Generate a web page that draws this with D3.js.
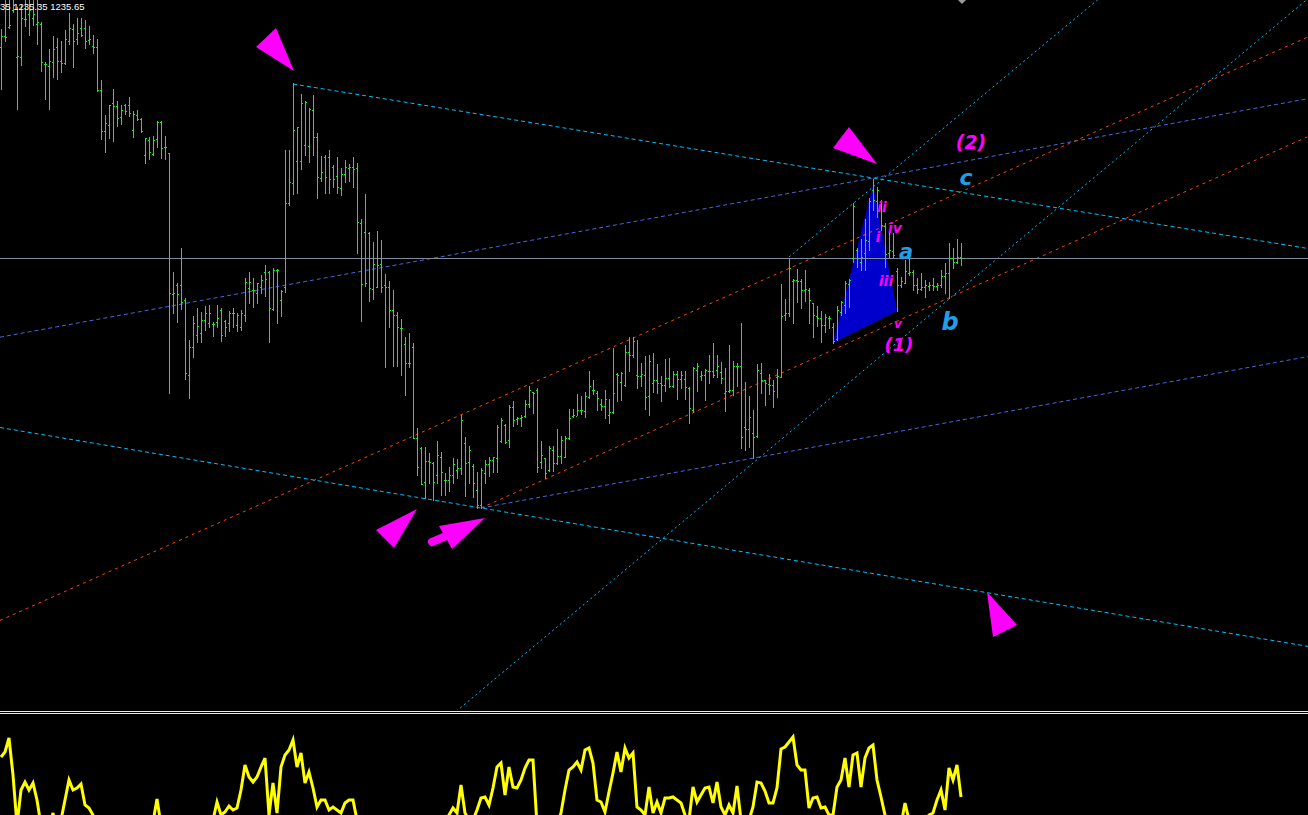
<!DOCTYPE html>
<html><head><meta charset="utf-8">
<script src="https://cdn.jsdelivr.net/npm/d3@7"></script>
<style>html,body{margin:0;padding:0;background:#000;overflow:hidden}</style>
</head><body>
<script>
// ---------------- DATA ----------------
const opens=[1255.3,1256.4,1257.3,1259.0,1254.3,1254.3,1258.1,1258.6,1258.2,1257.6,
1257.6,1253.6,1253.4,1253.8,1255.3,1253.9,1253.7,1255.9,1257.1,1256.1,
1257.2,1257.2,1256.0,1255.4,1255.3,1251.0,1246.9,1247.5,1249.7,1249.4,
1248.3,1249.5,1249.5,1247.0,1248.5,1248.1,1244.5,1246.0,1244.6,1246.1,
1247.8,1245.3,1244.7,1230.6,1231.5,1231.5,1230.0,1222.5,1225.3,1226.5,
1226.7,1228.0,1227.7,1227.6,1227.8,1229.0,1227.9,1227.7,1228.7,1227.5,
1227.3,1228.5,1231.2,1231.0,1230.7,1231.3,1232.8,1232.8,1229.1,1233.0,
1230.0,1231.3,1239.7,1241.7,1243.9,1243.9,1245.5,1245.4,1249.0,1246.3,
1242.2,1244.3,1244.3,1243.3,1242.4,1241.2,1242.6,1243.2,1243.3,1243.2,
1237.7,1236.8,1236.7,1231.1,1231.3,1233.6,1231.5,1231.3,1229.0,1228.5,
1227.2,1225.6,1223.7,1225.3,1216.2,1215.2,1211.8,1213.9,1213.7,1212.5,
1214.3,1212.0,1212.0,1212.5,1213.0,1213.2,1215.7,1213.8,1213.4,1211.0,
1209.5,1212.7,1213.6,1214.0,1214.2,1215.9,1217.5,1216.0,1219.3,1218.1,
1218.2,1218.4,1219.6,1220.8,1221.0,1213.8,1214.2,1213.0,1215.0,1213.7,
1214.4,1214.3,1216.2,1218.4,1218.4,1219.0,1218.9,1220.3,1221.0,1220.7,
1219.6,1219.4,1218.5,1218.8,1222.6,1221.8,1221.5,1224.8,1224.5,1222.5,
1222.4,1222.5,1220.4,1221.7,1222.0,1221.7,1221.5,1222.2,1221.4,1222.6,
1222.1,1222.1,1221.2,1219.0,1223.0,1222.4,1222.5,1222.9,1222.9,1223.0,
1222.8,1220.7,1220.9,1221.0,1223.4,1223.4,1217.3,1217.1,1216.7,1216.4,
1222.7,1222.0,1221.6,1221.5,1222.3,1222.3,1228.5,1228.7,1231.9,1232.0,
1231.9,1231.0,1231.0,1229.7,1228.4,1228.2,1227.5,1228.2,1227.3,1226.1,
1228.8,1229.5,1231.6,1234.2,1235.0,1233.8,1234.7,1235.9,1241.0,1239.9,
1239.8,1237.4,1234.7,1234.9,1232.9,1231.5,1231.7,1232.7,1232.8,1231.5,
1231.1,1231.3,1231.4,1231.5,1231.4,1231.5,1232.4,1232.7,1234.2,1233.8,
1234.3];
const highs=[1257.1,1260.5,1260.5,1260.5,1259.3,1259.5,1260.3,1260.5,1260.5,1260.0,
1257.8,1253.8,1255.1,1256.4,1256.2,1255.9,1257.0,1258.7,1257.6,1258.2,
1258.2,1258.0,1257.4,1256.5,1256.1,1252.0,1248.5,1249.5,1251.1,1249.9,
1249.5,1249.6,1250.3,1248.9,1249.0,1248.2,1246.2,1246.3,1246.4,1247.9,
1247.9,1246.4,1244.7,1232.8,1231.7,1235.2,1230.2,1226.0,1228.4,1229.2,
1228.8,1229.4,1229.5,1227.8,1229.5,1229.2,1228.0,1228.9,1229.2,1228.7,
1229.0,1232.2,1232.8,1232.2,1231.7,1232.5,1233.5,1232.9,1233.2,1233.1,
1231.0,1245.0,1245.0,1251.7,1247.3,1250.6,1249.9,1249.2,1250.5,1246.7,
1244.4,1244.5,1245.0,1243.5,1244.3,1243.2,1244.0,1243.6,1244.3,1243.7,
1238.1,1240.6,1236.8,1235.8,1236.9,1236.0,1232.6,1231.9,1231.0,1228.8,
1228.1,1226.3,1226.7,1225.7,1217.2,1215.3,1215.3,1214.7,1213.8,1215.9,
1214.8,1212.7,1213.3,1214.2,1214.1,1218.5,1216.3,1215.4,1213.6,1212.8,
1213.2,1214.0,1214.3,1214.3,1217.5,1218.2,1217.6,1219.5,1219.9,1218.3,
1218.5,1220.0,1221.4,1220.8,1221.2,1215.9,1214.2,1215.4,1215.4,1217.1,
1216.4,1216.4,1219.1,1219.1,1220.6,1220.4,1220.8,1222.9,1222.0,1220.9,
1220.1,1221.0,1220.1,1225.2,1222.7,1222.8,1225.5,1226.3,1226.3,1226.0,
1223.7,1224.4,1224.5,1224.7,1223.6,1222.4,1224.1,1224.2,1222.9,1222.9,
1222.9,1222.9,1221.3,1223.3,1223.7,1222.9,1223.1,1224.5,1225.7,1224.5,
1223.8,1223.2,1225.5,1223.9,1223.7,1227.7,1221.8,1220.4,1219.0,1223.6,
1223.7,1222.0,1222.6,1222.0,1223.1,1231.6,1230.1,1234.2,1232.1,1233.1,
1232.1,1233.0,1231.2,1229.7,1229.4,1228.9,1228.6,1228.4,1227.7,1229.4,
1229.9,1231.9,1232.1,1239.7,1235.2,1236.1,1238.1,1240.2,1242.1,1241.3,
1240.0,1237.7,1236.8,1236.7,1233.2,1232.3,1234.0,1234.1,1233.0,1232.2,
1232.7,1232.0,1231.8,1232.2,1231.7,1233.0,1233.7,1235.7,1235.2,1236.1,
1235.7];
const lows=[1251.1,1255.9,1257.2,1258.8,1249.1,1253.5,1257.4,1256.5,1257.5,1255.6,
1252.9,1250.1,1249.1,1252.3,1252.1,1252.8,1253.6,1255.6,1253.3,1255.6,
1256.4,1255.2,1255.6,1254.7,1250.9,1246.1,1244.8,1246.2,1245.9,1247.4,
1247.6,1248.6,1248.4,1246.3,1248.0,1246.8,1243.7,1244.1,1244.5,1245.3,
1244.2,1244.1,1220.7,1228.7,1227.8,1229.1,1222.1,1220.2,1224.3,1225.8,
1225.8,1227.0,1227.3,1226.4,1227.3,1225.9,1226.4,1226.9,1227.3,1226.9,
1227.0,1227.9,1229.7,1229.3,1229.7,1230.7,1230.4,1225.8,1229.0,1227.7,
1228.4,1230.8,1239.5,1240.6,1240.7,1243.1,1244.5,1243.8,1244.5,1240.2,
1241.9,1240.7,1240.7,1241.3,1240.7,1240.5,1241.8,1241.9,1241.3,1234.7,
1227.9,1231.4,1229.9,1230.1,1231.3,1230.8,1223.3,1227.3,1223.4,1223.4,
1222.5,1220.5,1223.3,1216.2,1212.5,1211.6,1210.2,1211.7,1210.0,1211.7,
1210.5,1210.5,1210.9,1211.7,1212.2,1212.6,1210.4,1211.7,1210.3,1209.2,
1209.2,1211.7,1212.4,1212.8,1212.8,1215.8,1215.7,1215.3,1217.4,1217.6,
1217.4,1218.3,1219.3,1218.7,1212.8,1213.2,1212.2,1212.9,1212.9,1213.6,
1213.7,1214.3,1216.1,1218.3,1218.5,1218.6,1218.3,1220.2,1220.6,1219.0,
1219.0,1218.2,1217.7,1218.7,1219.9,1220.0,1221.4,1222.9,1224.3,1221.2,
1221.4,1219.1,1218.5,1220.8,1220.7,1219.9,1220.9,1221.3,1221.3,1220.1,
1221.2,1220.1,1217.7,1218.8,1220.9,1222.0,1220.0,1221.7,1222.3,1222.3,
1221.7,1218.9,1220.8,1220.5,1221.4,1215.2,1215.0,1215.3,1214.2,1216.3,
1220.7,1219.5,1220.6,1219.3,1220.3,1222.3,1228.0,1228.4,1227.7,1229.8,
1229.2,1229.9,1227.7,1226.3,1227.4,1225.8,1226.8,1227.2,1225.7,1226.0,
1228.5,1228.7,1229.3,1233.8,1233.3,1233.0,1233.0,1235.0,1239.0,1238.3,
1237.0,1233.3,1234.3,1234.3,1228.9,1231.3,1231.7,1232.5,1231.0,1230.7,
1231.0,1230.3,1231.0,1231.0,1231.0,1231.3,1230.7,1230.2,1233.2,1233.7,
1233.5];
const closes=[1256.4,1256.3,1257.5,1259.5,1254.4,1258.2,1258.1,1259.0,1258.6,1257.8,
1253.8,1253.6,1253.9,1255.1,1253.9,1253.7,1256.1,1257.2,1255.9,1256.7,
1256.5,1255.9,1256.1,1255.3,1251.0,1246.9,1247.7,1249.5,1249.4,1248.2,
1249.0,1248.9,1248.7,1248.6,1248.1,1246.9,1246.2,1244.8,1246.0,1247.8,
1245.2,1245.3,1230.7,1230.7,1230.6,1229.8,1222.7,1225.3,1227.7,1227.4,
1228.0,1228.7,1228.7,1227.6,1228.2,1226.5,1227.3,1228.7,1228.7,1228.5,
1228.7,1231.8,1231.8,1231.0,1231.7,1232.0,1232.1,1229.2,1233.0,1233.0,
1230.9,1239.7,1241.8,1247.0,1247.3,1249.7,1249.8,1249.1,1246.3,1242.3,
1242.8,1242.3,1242.1,1242.1,1241.3,1242.6,1243.3,1243.3,1243.1,1237.8,
1231.6,1231.7,1231.2,1233.6,1233.5,1231.3,1231.3,1229.0,1228.5,1227.3,
1227.2,1223.7,1223.7,1216.2,1213.3,1211.6,1213.9,1213.8,1211.8,1214.5,
1212.8,1212.0,1212.5,1213.6,1213.2,1218.0,1213.7,1215.0,1211.7,1209.5,
1213.0,1213.6,1214.0,1214.3,1217.3,1218.0,1215.8,1219.3,1218.0,1218.2,
1218.3,1219.6,1221.0,1220.7,1213.3,1214.5,1212.7,1215.2,1213.7,1214.4,
1216.0,1216.2,1218.2,1218.5,1219.0,1219.0,1220.4,1221.4,1221.0,1220.2,
1219.4,1220.1,1218.8,1220.7,1222.5,1222.7,1224.8,1224.5,1225.9,1222.4,
1222.6,1220.3,1223.9,1222.0,1221.7,1221.5,1222.2,1221.4,1222.6,1222.1,
1222.5,1221.3,1219.2,1223.2,1223.4,1222.5,1223.0,1222.9,1222.5,1223.4,
1222.2,1220.9,1221.0,1223.4,1223.4,1216.3,1217.1,1218.3,1216.3,1223.0,
1222.0,1221.7,1221.5,1220.9,1222.4,1228.4,1228.7,1233.2,1232.0,1231.9,
1231.0,1231.1,1230.0,1228.5,1228.2,1227.5,1228.3,1228.2,1225.9,1229.0,
1229.8,1231.7,1232.0,1239.4,1234.2,1234.3,1236.0,1239.9,1240.0,1241.0,
1237.5,1234.6,1235.0,1234.5,1231.5,1231.9,1232.9,1232.8,1231.5,1231.1,
1231.3,1231.5,1231.5,1231.4,1231.5,1232.4,1232.7,1234.2,1233.8,1234.3,
1234.2];
const indicator=[93,98,112,75,25,60,68,60,67,50,
25,20,22,37,20,30,50,70,60,62,
66,45,42,35,20,18,15,12,14,16,
20,22,18,15,17,20,24,26,28,51,
25,22,18,14,12,10,13,16,19,22,
20,25,22,30,48,35,38,44,40,42,
60,85,73,68,73,83,92,35,67,37,
83,95,100,110,83,97,67,78,62,43,
50,50,40,43,40,37,47,50,50,30,
22,18,15,12,14,10,8,12,15,18,
20,16,12,10,8,10,14,18,20,22,
25,28,35,42,37,65,37,30,30,40,
52,53,45,62,83,87,55,83,63,62,
70,82,90,90,25,20,18,18,22,25,
37,60,80,83,88,80,100,102,87,50,
48,38,58,77,98,78,102,92,97,43,
40,35,63,37,48,37,52,52,53,50,
47,35,30,63,48,55,62,63,47,68,
43,35,45,37,64,30,30,30,43,68,
67,59,47,47,62,101,103,108,113,85,
80,80,42,52,53,42,43,35,35,63,
70,92,63,95,97,63,92,102,105,70,
53,35,20,15,20,25,47,30,20,15,
18,22,35,37,50,60,40,82,70,85,
53];
const infoText="35 1235.35 1235.65";
// trendlines: [startIndex, startPrice, throughIndex, throughPrice, extendLeft]
const cyanChannel=[[73,1251.6,218,1242.2,false],[120,1209.2,247,1200.7,true]];
const cyanSteep=[[188,1213.7,237,1230.1,true],[197,1234.3,218,1241.3,false]];
const orangeChannel=[[0,1198.0,218,1236.9,true],[120,1209.2,292,1240.1,false]];
const blueChannel=[[0,1226.3,218,1242.2,true],[120,1209.2,292,1221.8,false]];
const waveTriangle=[[208,1225.7],[218,1241.5],[224,1228.9]];
// wave labels: text, index, price
const magentaLabels=[["(2)",242.5,1245.1],["ii",220.25,1238.8],["iv",223.5,1236.7],["i",219.25,1235.8],["iii",221.25,1231.4],["v",224.25,1227.2],["(1)",224.5,1224.9]];
const blueLabels=[["c",241.25,1241.5],["a",226.25,1234.1],["b",237.25,1227.0]];

// ---------------- DRAW ----------------
const W=1308,H=815,mainBottom=710,indTop=714;
const x=d3.scaleLinear().domain([0,240]).range([1,961]);
const y=d3.scaleLinear().domain([1189,1260]).range([mainBottom,0]);
const yi=d3.scaleLinear().domain([0,136]).range([850,indTop]);

const svg=d3.select("body").append("svg").attr("width",W).attr("height",H)
  .style("display","block").style("background","#000");
const defs=svg.append("defs");
defs.append("clipPath").attr("id","cm").append("rect").attr("x",0).attr("y",0).attr("width",W).attr("height",mainBottom);
defs.append("clipPath").attr("id","ci").append("rect").attr("x",0).attr("y",indTop).attr("width",W).attr("height",H-indTop);

const g=svg.append("g").attr("clip-path","url(#cm)");

function seg(d){
  const x1=x(d[0]),y1=y(d[1]),x2=x(d[2]),y2=y(d[3]);
  const m=(y2-y1)/(x2-x1);
  const xs=d[4]?0:x1, xe=W;
  return [xs,y1+m*(xs-x1),xe,y1+m*(xe-x1)];
}
function drawLines(arr,color,dash){
  arr.forEach(d=>{const s=seg(d);
    g.append("line").attr("x1",s[0]).attr("y1",s[1]).attr("x2",s[2]).attr("y2",s[3])
     .attr("stroke",color).attr("stroke-width",1).attr("stroke-dasharray",dash);});
}
// wave triangle (background)
g.append("polygon").attr("points",waveTriangle.map(p=>[x(p[0]),y(p[1])].join(",")).join(" "))
 .attr("fill","#0000CD");

drawLines(blueChannel,"#4169E1","4,3");
drawLines(orangeChannel,"#FF4500","3,4");
drawLines(cyanChannel,"#00BFFF","4,3");
drawLines(cyanSteep,"#00BFFF","2,3");

// bid line
const bidY=Math.round(y(closes[closes.length-1]))+0.5;
g.append("line").attr("x1",0).attr("x2",W).attr("y1",bidY).attr("y2",bidY)
 .attr("stroke","#7f8c9c").attr("stroke-width",1);

// OHLC bars
const bars=g.append("g").attr("fill","#22e622").attr("shape-rendering","crispEdges");
opens.forEach((o,i)=>{
  const xi=Math.round(x(i));
  const yh=Math.round(y(highs[i])), yl=Math.round(y(lows[i]));
  bars.append("rect").attr("x",xi).attr("y",yh).attr("width",1).attr("height",Math.max(1,yl-yh+1));
  bars.append("rect").attr("x",xi-1).attr("y",Math.round(y(o))).attr("width",1).attr("height",1);
  bars.append("rect").attr("x",xi+1).attr("y",Math.round(y(closes[i]))).attr("width",1).attr("height",1);
});

// magenta arrows (pixel shapes around anchors)
const mag="#FF00FF";
function tri(ai,ap,pts){
  const ax=x(ai),ay=y(ap);
  g.append("polygon").attr("points",pts.map(p=>[ax+p[0],ay+p[1]].join(",")).join(" ")).attr("fill",mag);
}
tri(73,highs[73],[[1,-12],[-37,-36],[-17,-55]]);
tri(218,highs[218],[[4,-15],[-40,-31],[-24,-52]]);
tri(120,lows[120],[[-105,22],[-64,1],[-87,40]]);
tri(120,lows[120],[[-42,18],[4,10],[-29,41]]);
g.append("line").attr("x1",x(120)-49).attr("y1",y(lows[120])+34).attr("x2",x(120)-35).attr("y2",y(lows[120])+28)
 .attr("stroke",mag).attr("stroke-width",8).attr("stroke-linecap","round");
tri(246.5,1200.8,[[0,0],[30,33],[6,45]]);

// labels
const sizes={"(2)":19,"(1)":18,"ii":14,"iv":14,"i":14,"iii":14,"v":12,"c":22,"a":21,"b":24};
magentaLabels.forEach(d=>{
  g.append("text").attr("x",x(d[1])).attr("y",y(d[2])).attr("text-anchor","middle")
   .attr("font-family","DejaVu Sans").attr("font-weight","bold").attr("font-style","italic")
   .attr("font-size",sizes[d[0]]).attr("fill",mag).text(d[0]);
});
blueLabels.forEach(d=>{
  g.append("text").attr("x",x(d[1])).attr("y",y(d[2])).attr("text-anchor","middle")
   .attr("font-family","DejaVu Sans").attr("font-weight","bold").attr("font-style","italic")
   .attr("font-size",sizes[d[0]]).attr("fill","#1E9FEA").text(d[0]);
});

// shift marker at top
const mx=x(240)+1;
svg.append("polygon").attr("points",`${mx-4},0 ${mx+4},0 ${mx},4`).attr("fill","#9a9a9a");

// info text
svg.append("text").attr("x",0).attr("y",10).attr("font-family","Liberation Sans").attr("font-size",9.5)
 .attr("fill","#fff").text(infoText);

// separator
[711.5,713.5].forEach(v=>svg.append("line").attr("x1",0).attr("x2",W).attr("y1",v).attr("y2",v)
  .attr("stroke","#e8e8e8").attr("stroke-width",1));

// indicator
const gi=svg.append("g").attr("clip-path","url(#ci)");
gi.append("path").datum(indicator)
 .attr("d",d3.line().x((d,i)=>x(i)).y(d=>yi(d)))
 .attr("fill","none").attr("stroke","#FFFF00").attr("stroke-width",3);
</script>
</body></html>
